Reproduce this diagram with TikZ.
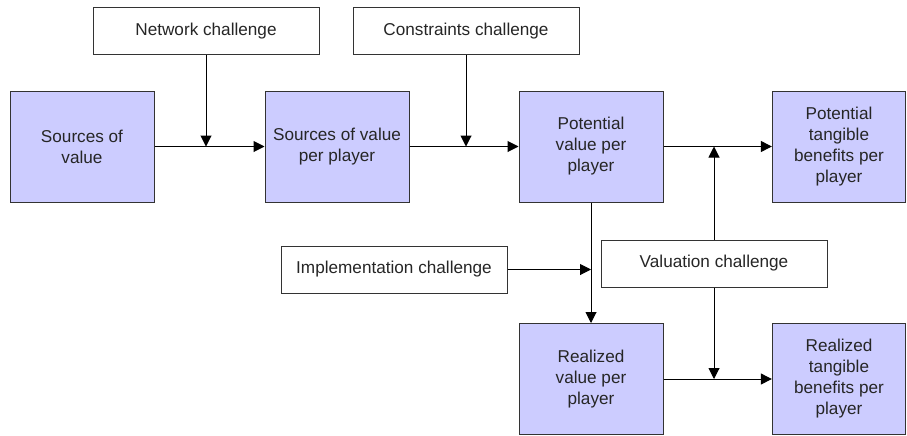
\documentclass[tikz,border=0pt]{standalone}
\usepackage{fontspec}
\setmainfont{Liberation Sans}
\usepackage{xcolor}
\usetikzlibrary{calc}
\usetikzlibrary{arrows.meta}

\definecolor{valfill}{RGB}{204,204,255}
\definecolor{edge}{RGB}{51,51,51}

\begin{document}
\begin{tikzpicture}[x=0.6pt, y=-0.6pt]

\tikzset{
    box/.style = {
    draw=edge,
    line width=0.6pt,
    align=center,
    text=black!85,
    font=\fontsize{10.3}{12.6}\selectfont,
    inner sep=0pt
    },
    arr/.style = {
    line width=0.6pt,
    -{Triangle[length=6.6pt,width=6.6pt]}
    }
}

\tikzstyle{valeur}=[box, fill=valfill, minimum width=86.4pt, minimum height=66.6pt]
\tikzstyle{benefice}=[box, fill=valfill, minimum width=80pt, minimum height=66.6pt]
\tikzstyle{defi}=[box, fill=white, minimum width=135.6pt, minimum height=28.2pt]

\useasboundingbox (0,0) rectangle (907,435);

% value chain
\node (src) [valeur] at (82,146.5) {Sources of\\value};
\node (srcp) [valeur] at (337,146.5) {Sources of value\\per player};
\node (pot) [valeur] at (591,146.5) {Potential\\value per\\player};
\node (potb) [benefice] at (839,146.5) {Potential\\tangible\\benefits per\\player};
\node (real) [valeur] at (591,379) {Realized\\value per\\player};
\node (realb) [benefice] at (839,379) {Realized\\tangible\\benefits per\\player};

% challenges
\node (net) [defi] at (206,31) {Network challenge};
\node (con) [defi] at (466,31) {Constraints challenge};
\node (imp) [defi] at (394,269.5) {Implementation challenge};
\node (val) [defi] at (714,263.5) {Valuation challenge};

\coordinate (j-net) at (net.south |- src.east);
\coordinate (j-con) at (con.south |- srcp.east);
\coordinate (j-val) at (val.north |- pot.east);
\coordinate (j-imp) at (imp.east -| pot.south);
\coordinate (j-real) at (val.south |- real.east);

\draw [arr] (src) -- (srcp);
\draw [arr] (srcp) -- (pot);
\draw [arr] (pot) -- (potb);
\draw [arr] (pot) -- (real);
\draw [arr] (real) -- (realb);

\draw [arr] (net) -- (j-net);
\draw [arr] (con) -- (j-con);
\draw [arr] (val) -- (j-val);
\draw [arr] (val) -- (j-real);
\draw [arr] (imp) -- (j-imp);

\end{tikzpicture}
\end{document}
